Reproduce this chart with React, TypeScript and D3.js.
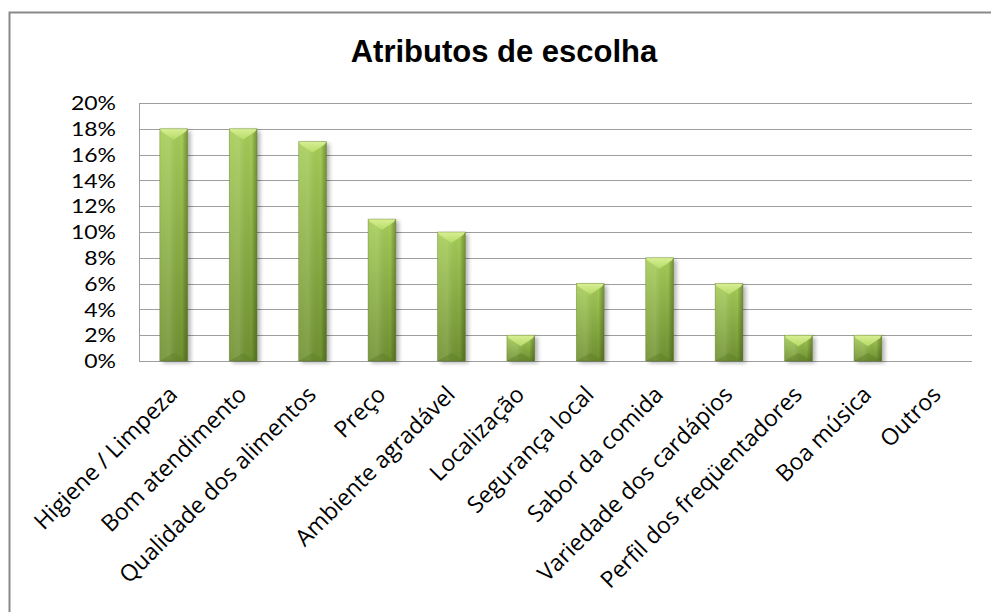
import React from "react";
import * as d3 from "d3";

const categories = [
  "Higiene / Limpeza",
  "Bom atendimento",
  "Qualidade dos alimentos",
  "Preço",
  "Ambiente agradável",
  "Localização",
  "Segurança local",
  "Sabor da comida",
  "Variedade dos cardápios",
  "Perfil dos freqüentadores",
  "Boa música",
  "Outros",
];
const values = [0.18, 0.18, 0.17, 0.11, 0.1, 0.02, 0.06, 0.08, 0.06, 0.02, 0.02, 0];
const yTicks = [0, 0.02, 0.04, 0.06, 0.08, 0.1, 0.12, 0.14, 0.16, 0.18, 0.2];
const title = "Atributos de escolha";

const W = 991;
const H = 612;
const plot = { left: 139, right: 972, top: 103, bottom: 361 };

export default function App() {
  const x = d3
    .scaleBand<string>()
    .domain(categories)
    .range([plot.left, plot.right])
    .paddingInner(0.6)
    .paddingOuter(0.3);
  const y = d3.scaleLinear().domain([0, 0.2]).range([plot.bottom, plot.top]);
  const fmt = d3.format(".0%");
  const bw = x.bandwidth();

  return (
    <svg
      width={W}
      height={H}
      style={{ position: "absolute", left: 0, top: 0, display: "block", background: "#fff" }}
    >
      <defs>
        <linearGradient id="body" x1="0" y1="0" x2="0" y2="1">
          <stop offset="0" stopColor="#a6cd58" />
          <stop offset="1" stopColor="#6f9030" />
        </linearGradient>
        <linearGradient id="side" x1="0" y1="0" x2="1" y2="0">
          <stop offset="0" stopColor="#ffffff" stopOpacity="0.08" />
          <stop offset="0.35" stopColor="#ffffff" stopOpacity="0.12" />
          <stop offset="0.8" stopColor="#000000" stopOpacity="0" />
          <stop offset="1" stopColor="#203000" stopOpacity="0.35" />
        </linearGradient>
        <linearGradient id="topb" x1="0" y1="0" x2="0" y2="1">
          <stop offset="0" stopColor="#d8ef94" />
          <stop offset="1" stopColor="#b6da66" />
        </linearGradient>
        <filter id="shadow" x="-50%" y="-10%" width="200%" height="120%">
          <feGaussianBlur stdDeviation="2" />
        </filter>
      </defs>

      {/* outer chart border */}
      <rect x={9.5} y={12.5} width={1000} height={640} fill="#fff" stroke="#898989" strokeWidth={2} />

      {/* title */}
      <text
        x={504}
        y={62}
        textAnchor="middle"
        fontFamily="Liberation Sans, Arial, sans-serif"
        fontWeight="bold"
        fontSize={31}
        fill="#000"
      >
        {title}
      </text>

      {/* gridlines */}
      {yTicks.map((t) => (
        <line
          key={t}
          x1={plot.left}
          x2={plot.right}
          y1={Math.round(y(t)) + 0.5}
          y2={Math.round(y(t)) + 0.5}
          stroke="#9e9e9e"
          strokeWidth={1}
        />
      ))}
      <line
        x1={plot.left + 0.5}
        x2={plot.left + 0.5}
        y1={plot.top}
        y2={plot.bottom + 1}
        stroke="#9e9e9e"
        strokeWidth={1}
      />

      {/* y tick labels */}
      {yTicks.map((t) => (
        <text
          key={"l" + t}
          transform={`translate(116,${y(t)}) scale(1.15,1)`}
          dy="0.36em"
          textAnchor="end"
          fontFamily="Lato, sans-serif"
          fontSize={20}
          fill="#000"
        >
          {fmt(t)}
        </text>
      ))}

      {/* bars */}
      {categories.map((c, i) => {
        const v = values[i];
        if (v <= 0) return null;
        const x0 = x(c)!;
        const x1 = x0 + bw;
        const y0 = y(v);
        const y1 = y(0);
        const h = y1 - y0;
        const cx = (x0 + x1) / 2;
        const d = Math.min(11, h / 2);
        const db = Math.min(8, h / 2);
        return (
          <g key={c}>
            <rect x={x0 + 3} y={y0 + 2} width={bw} height={h} fill="#000" opacity={0.3} filter="url(#shadow)" />
            <rect x={x0} y={y0} width={bw} height={h} fill="url(#body)" />
            <rect x={x0} y={y0} width={bw} height={h} fill="url(#side)" />
            <polygon
              points={`${x0},${y0} ${x1},${y0} ${x1 - 2},${y0 + 3} ${cx},${y0 + d} ${x0 + 2},${y0 + 3}`}
              fill="url(#topb)"
            />
            <polygon
              points={`${x0},${y1} ${x1},${y1} ${cx},${y1 - db}`}
              fill="#5e7e26"
              opacity={0.45}
            />
            <rect x={x0} y={y0} width={bw} height={h} fill="none" stroke="#5b7a22" strokeWidth={0.6} opacity={0.6} />
          </g>
        );
      })}

      {/* category labels */}
      {categories.map((c) => {
        const cx = x(c)! + bw / 2;
        return (
          <text
            key={"c" + c}
            transform={`translate(${cx + 5},${396}) rotate(-45)`}
            textAnchor="end"
            fontFamily="Open Sans, sans-serif"
            fontSize={23}
            fill="#000"
          >
            {c}
          </text>
        );
      })}
    </svg>
  );
}
